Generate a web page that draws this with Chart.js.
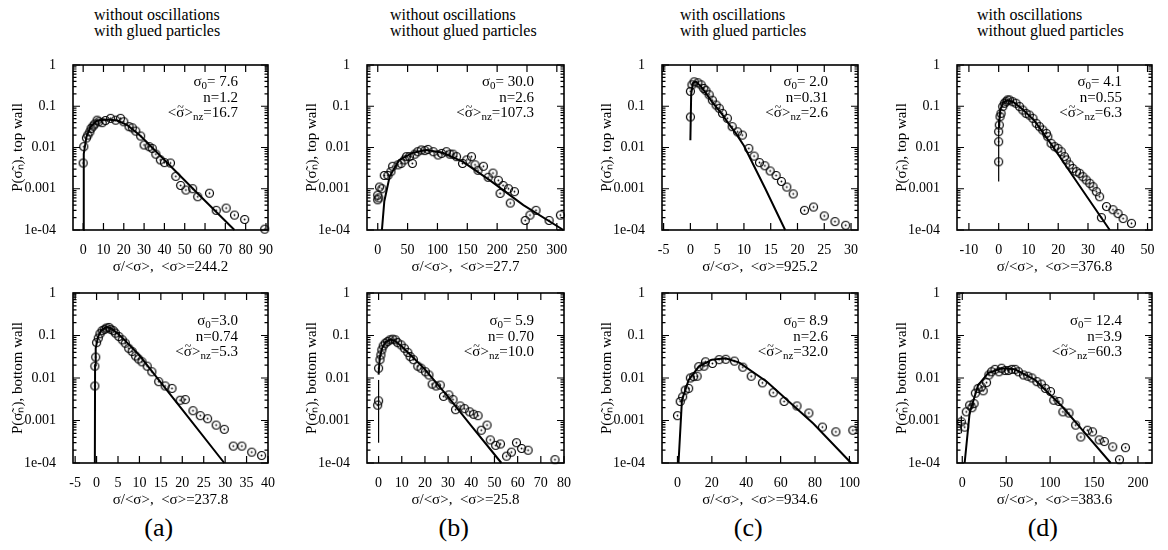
<!DOCTYPE html>
<html>
<head>
<meta charset="utf-8">
<script src="https://cdn.jsdelivr.net/npm/chart.js@4.4.1/dist/chart.umd.min.js"></script>
<style>
  html, body { margin: 0; padding: 0; background: #fff; }
  body { width: 1168px; height: 550px; position: relative; overflow: hidden;
         font-family: 'Liberation Serif', 'Times New Roman', serif; color: #000; }
  .cv { position: absolute; }
  .hd { position: absolute; font-size: 16px; line-height: 16px; white-space: nowrap; }
  .an { position: absolute; font-size: 15px; line-height: 15.5px; text-align: right; white-space: nowrap; }
  .an sub { font-size: 11px; vertical-align: -3px; line-height: 0; }
  .tl { position: relative; display: inline-block; }
  .tl::after { content: '~'; position: absolute; left: 0; right: 0; top: -5px; text-align: center; font-size: 12px; }
  .pl { position: absolute; font-size: 26px; line-height: 30px; transform: translateX(-50%); }
</style>
</head>
<body>
<script>
// log axis, shared by all panels
var yTicks = [0.0001, 0.001, 0.01, 0.1, 1];
var yTickLabels = ['1e-04', '0.001', '0.01', '0.1', '1'];

var headers = [
  ['without oscillations', 'with glued particles'],
  ['without oscillations', 'without glued particles'],
  ['with oscillations', 'with glued particles'],
  ['with oscillations', 'without glued particles']
];
var panelNames = ['(a)', '(b)', '(c)', '(d)'];

// fit parameters printed in each panel
var meanTop = ['244.2', '27.7', '925.2', '376.8'];
var meanBottom = ['237.8', '25.8', '934.6', '383.6'];
var sigma0Top = [' 7.6', ' 30.0', ' 2.0', ' 4.1'];
var sigma0Bottom = ['3.0', ' 5.9', ' 8.9', ' 12.4'];
var nTop = ['1.2', '2.6', '0.31', '0.55'];
var nBottom = ['0.74', ' 0.70', '2.6', '3.9'];
var nzTop = ['16.7', '107.3', '2.6', '6.3'];
var nzBottom = ['5.3', '10.0', '32.0', '60.3'];

// (a) top wall
var aTopRange = [-5, 91];
var aTopTicks = [0, 10, 20, 30, 40, 50, 60, 70, 80, 90];
var aTopX = [0, 0.3, 1.6, 2.3, 3.3, 3.9, 4.9, 5.7, 6.9, 7.7, 9.4, 11, 13.5, 16, 18.4, 20, 22.6, 24.2, 25.9, 28.3, 30, 32.5, 34, 35.8, 38, 40, 43, 45.6, 48, 50.6, 53.9, 56.4, 62.2, 65.5, 70.4, 74.5, 79.5, 89.4];
var aTopP = [0.0042, 0.0105, 0.017, 0.02, 0.024, 0.029, 0.033, 0.037, 0.046, 0.042, 0.04, 0.045, 0.051, 0.046, 0.051, 0.042, 0.032, 0.03, 0.025, 0.019, 0.0115, 0.0105, 0.0095, 0.0069, 0.005, 0.0043, 0.0042, 0.002, 0.0012, 0.00093, 0.001, 0.00064, 0.00078, 0.0003, 0.00034, 0.00023, 0.00018, 0.000105];
var aTopFitX = [0.05, 0.3, 1.6, 3.6, 6.9, 11.8, 16.8, 21.7, 28.3, 41.5, 58, 74.5];
var aTopFitP = [0.0001, 0.007, 0.018, 0.032, 0.045, 0.048, 0.045, 0.035, 0.019, 0.0042, 0.00064, 0.0001];

// (b) top wall
var bTopRange = [-18, 312];
var bTopTicks = [0, 50, 100, 150, 200, 250, 300];
var bTopX = [0, 1.7, 0, 3, 7, 11, 17, 22, 25, 34, 39, 45, 48, 53, 58, 62, 67, 73, 79, 84, 93, 101, 107, 115, 121, 126, 132, 142, 149, 157, 163, 168, 177, 185, 193, 202, 210, 219, 229, 205, 222, 247, 255, 265, 287, 306];
var bTopP = [0.00054, 0.0006, 0.0007, 0.0011, 0.001, 0.0021, 0.0021, 0.0026, 0.0035, 0.0038, 0.0041, 0.005, 0.006, 0.006, 0.0041, 0.0069, 0.0079, 0.0087, 0.0084, 0.009, 0.0079, 0.0066, 0.0072, 0.0079, 0.0069, 0.0069, 0.006, 0.0041, 0.005, 0.006, 0.0038, 0.0028, 0.0035, 0.0019, 0.0024, 0.0016, 0.0012, 0.001, 0.00085, 0.00077, 0.00045, 0.00017, 0.00023, 0.0003, 0.00017, 0.00023];
var bTopFitX = [7, 11, 20, 36, 59, 81, 109, 143, 188, 244, 311];
var bTopFitP = [0.0001, 0.0005, 0.002, 0.005, 0.0075, 0.0087, 0.0075, 0.0045, 0.0016, 0.0004, 0.0001];

// (c) top wall
var cTopRange = [-5.3, 31.3];
var cTopTicks = [-5, 0, 5, 10, 15, 20, 25, 30];
var cTopX = [0, 0, 0.3, 0.7, 1.4, 2, 2.5, 2.9, 3.5, 4.1, 4.8, 5.4, 6, 6.9, 7.8, 8.8, 9.7, 10.9, 11.9, 12.9, 13.9, 14.9, 16, 17, 18, 19.2, 21.3, 23, 25, 27, 29];
var cTopP = [0.055, 0.23, 0.33, 0.39, 0.37, 0.33, 0.27, 0.24, 0.19, 0.14, 0.107, 0.089, 0.067, 0.051, 0.032, 0.024, 0.02, 0.0095, 0.0062, 0.0043, 0.0036, 0.0027, 0.0021, 0.0015, 0.0011, 0.00075, 0.0003, 0.00036, 0.00022, 0.00016, 0.00013];
var cTopFitX = [0, 0.15, 0.5, 1, 2, 3, 4, 5, 6, 7, 8.5, 10, 14, 17.7];
var cTopFitP = [0.015, 0.2, 0.37, 0.4, 0.3, 0.2, 0.13, 0.09, 0.062, 0.04, 0.022, 0.011, 0.001, 0.0001];

// (d) top wall
var dTopRange = [-14, 51.5];
var dTopTicks = [-10, 0, 10, 20, 30, 40, 50];
var dTopX = [0, 0, 0, 0.2, 0.45, 0.8, 1.35, 1.9, 2.5, 3, 3.6, 4.7, 5.8, 7, 8.1, 9.2, 10.3, 11.5, 12.6, 13.7, 14.8, 16, 16.5, 17.6, 18.8, 19.9, 21, 22.1, 22.7, 23.8, 24.9, 26.1, 27.2, 28.3, 29.4, 30.6, 31.7, 32.8, 33.9, 34.5, 36.2, 38.4, 40.1, 41.8, 44.6];
var dTopP = [0.0045, 0.0138, 0.0242, 0.035, 0.056, 0.067, 0.098, 0.118, 0.129, 0.142, 0.142, 0.129, 0.118, 0.098, 0.081, 0.067, 0.061, 0.051, 0.0385, 0.032, 0.0266, 0.022, 0.0183, 0.0126, 0.0105, 0.0095, 0.0079, 0.006, 0.005, 0.0038, 0.0031, 0.0026, 0.00236, 0.00196, 0.00163, 0.00135, 0.00112, 0.00085, 0.00064, 0.0002, 0.00037, 0.00031, 0.00025, 0.00019, 0.000145];
var dTopFitX = [0.1, 0.5, 1.5, 3, 5, 8, 12, 18, 28, 37.3];
var dTopFitP = [0.03, 0.08, 0.125, 0.14, 0.125, 0.085, 0.045, 0.011, 0.00096, 0.0001];
var dTopErr = [[0, 0.0015, 0.05]];

// (a) bottom wall
var aBotRange = [-5.5, 40];
var aBotTicks = [-5, 0, 5, 10, 15, 20, 25, 30, 35, 40];
var aBotX = [-0.4, -0.4, -0.2, 0, 0.4, 0.8, 1.3, 1.9, 2.3, 2.9, 3.3, 3.9, 4.4, 5.2, 6, 6.7, 7.5, 8.3, 9.1, 9.8, 10.6, 11.8, 12.9, 14.5, 16, 17.6, 19.5, 20.7, 22.5, 24.2, 25.9, 27.9, 29.8, 31.9, 33.9, 36.2, 38.5];
var aBotP = [0.0065, 0.019, 0.031, 0.068, 0.087, 0.11, 0.13, 0.14, 0.15, 0.155, 0.14, 0.13, 0.114, 0.095, 0.079, 0.066, 0.05, 0.042, 0.033, 0.028, 0.024, 0.019, 0.014, 0.0082, 0.0065, 0.0057, 0.003, 0.0031, 0.0017, 0.0013, 0.0011, 0.00078, 0.00062, 0.00025, 0.00025, 0.00018, 0.00015];
var aBotFitX = [-0.4, -0.35, -0.2, 0.3, 1, 2.3, 3.5, 5, 7, 10, 14.5, 20, 29.8];
var aBotFitP = [0.0001, 0.02, 0.05, 0.09, 0.13, 0.16, 0.145, 0.11, 0.07, 0.034, 0.009, 0.0018, 0.0001];

// (b) bottom wall
var bBotRange = [-5, 80];
var bBotTicks = [0, 10, 20, 30, 40, 50, 60, 70, 80];
var bBotX = [-0.4, 0, 0, 0.6, 1, 1.4, 2, 2.9, 3.9, 4.9, 6.1, 7.2, 8.2, 9.7, 11.1, 12.6, 13.6, 15, 16.9, 18.3, 20.2, 21.7, 23.1, 24.8, 26.6, 28, 30.3, 32.1, 33.2, 35.2, 37.1, 39.3, 41, 42.9, 44.3, 46.8, 48.2, 50.5, 52.6, 55.2, 57.3, 59.5, 61.7, 64.5, 76.1];
var bBotP = [0.0023, 0.0029, 0.017, 0.027, 0.035, 0.046, 0.057, 0.066, 0.072, 0.079, 0.082, 0.079, 0.068, 0.06, 0.05, 0.04, 0.032, 0.027, 0.019, 0.017, 0.014, 0.0118, 0.0072, 0.0065, 0.0068, 0.0037, 0.004, 0.0031, 0.0018, 0.0022, 0.0019, 0.0016, 0.0014, 0.0013, 0.00059, 0.00078, 0.00035, 0.00026, 0.00028, 0.000145, 0.00018, 0.0003, 0.00022, 0.0002, 0.00012];
var bBotFitX = [0, 0.5, 1.5, 3, 5, 7, 10, 15, 20, 30, 40, 53];
var bBotFitP = [0.012, 0.03, 0.05, 0.07, 0.08, 0.075, 0.055, 0.03, 0.016, 0.0036, 0.00075, 0.0001];
var bBotErr = [[0, 0.0003, 0.009]];

// (c) bottom wall
var cBotRange = [-9, 105];
var cBotTicks = [0, 20, 40, 60, 80, 100];
var cBotX = [0, 1.6, 3, 4.5, 6.5, 7.5, 9.4, 11.4, 12.4, 15.4, 16.3, 20.3, 24.2, 28.1, 33.1, 38, 42.9, 49.4, 55.7, 62, 69.5, 76.4, 84.3, 92.1, 102];
var cBotP = [0.0013, 0.0028, 0.0036, 0.0052, 0.0057, 0.01, 0.0108, 0.011, 0.0185, 0.019, 0.024, 0.022, 0.027, 0.0276, 0.025, 0.018, 0.011, 0.0077, 0.0045, 0.0028, 0.0022, 0.0015, 0.0007, 0.00054, 0.00059];
var cBotFitX = [0.6, 2.6, 6.5, 12.4, 20, 28, 36, 52, 79, 101];
var cBotFitP = [0.0001, 0.003, 0.009, 0.0185, 0.027, 0.029, 0.023, 0.0082, 0.00085, 0.0001];

// (d) bottom wall
var dBotRange = [-6, 216];
var dBotTicks = [0, 50, 100, 150, 200];
var dBotX = [-1.1, 2.7, 4.6, 8.4, 11, 13.4, 14.9, 18, 21.8, 23.8, 27.6, 30.3, 33.3, 37.2, 41.8, 44.8, 48.7, 52.5, 56.3, 60.2, 64, 69.7, 74.7, 79.3, 85, 90, 94.6, 100.4, 104.2, 110, 114.6, 121.5, 129.1, 134.9, 142.5, 148.3, 155.9, 161.7, 171.3, 179, 185.8];
var dBotP = [0.00093, 0.0007, 0.0016, 0.0023, 0.002, 0.0025, 0.0044, 0.0057, 0.0062, 0.005, 0.0078, 0.0118, 0.014, 0.016, 0.014, 0.017, 0.015, 0.015, 0.016, 0.016, 0.014, 0.0118, 0.011, 0.01, 0.0082, 0.0072, 0.0057, 0.0048, 0.003, 0.0028, 0.0016, 0.0015, 0.00078, 0.00041, 0.00059, 0.00054, 0.00035, 0.00032, 0.00024, 0.00012, 0.00023];
var dBotFitX = [2.7, 8.4, 18, 29.5, 44.8, 60, 83, 114, 140, 169];
var dBotFitP = [0.0001, 0.0015, 0.0068, 0.013, 0.017, 0.016, 0.009, 0.0021, 0.0005, 0.0001];
var dBotErr = [[-1.1, 0.0005, 0.0013]];

// page geometry of the plot boxes
var colLeft = [73, 367, 662, 957];
var colWidth = [195, 197, 196, 195];
var rowTop = [65, 293];
var rowHeight = [165, 170];
var AXIS_W = 72, AXIS_H = 50, PAD = 12;

var tickFont = { family: "'Liberation Serif', serif", size: 14 };
var titleFont = { family: "'Liberation Serif', serif", size: 15 };

// open circle with a dot, as gnuplot draws it
var ring = document.createElement('canvas');
ring.width = ring.height = 11;
(function () {
  var c = ring.getContext('2d');
  c.strokeStyle = '#000';
  c.lineWidth = 1.2;
  c.beginPath(); c.arc(5.5, 5.5, 4, 0, Math.PI * 2); c.stroke();
  c.fillStyle = '#000';
  c.beginPath(); c.arc(5.5, 5.5, 0.9, 0, Math.PI * 2); c.fill();
})();

// box with inward ticks on all four sides, minor ticks on the log axis
var framePlugin = {
  id: 'frame',
  afterDatasetsDraw: function (chart) {
    var ctx = chart.ctx, a = chart.chartArea, x = chart.scales.x, y = chart.scales.y;
    ctx.save();
    ctx.strokeStyle = '#000';
    ctx.lineWidth = 1.2;
    ctx.beginPath();
    x.ticks.forEach(function (t) {
      var px = x.getPixelForValue(t.value);
      ctx.moveTo(px, a.bottom); ctx.lineTo(px, a.bottom - 7);
      ctx.moveTo(px, a.top); ctx.lineTo(px, a.top + 7);
    });
    for (var d = -4; d <= 0; d++) {
      for (var k = 1; k <= 9; k++) {
        var v = k * Math.pow(10, d);
        if (v > 1) break;
        var py = y.getPixelForValue(v), len = k === 1 ? 7 : 3.5;
        ctx.moveTo(a.left, py); ctx.lineTo(a.left + len, py);
        ctx.moveTo(a.right, py); ctx.lineTo(a.right - len, py);
      }
    }
    ctx.stroke();
    ctx.lineWidth = 1.6;
    ctx.strokeRect(a.left, a.top, a.right - a.left, a.bottom - a.top);
    ctx.restore();
  }
};

function pts(xs, ys) {
  return xs.map(function (v, i) { return { x: v, y: ys[i] }; });
}

function panel(row, col, range, ticks, xs, ps, fxs, fps, errs, mean, wall) {
  var left = colLeft[col], top = rowTop[row], w = colWidth[col], h = rowHeight[row];
  var cw = AXIS_W + w + PAD, ch = PAD + h + AXIS_H;
  var canvas = document.createElement('canvas');
  canvas.className = 'cv';
  canvas.width = cw; canvas.height = ch;
  canvas.style.left = (left - AXIS_W) + 'px';
  canvas.style.top = (top - PAD) + 'px';
  canvas.style.width = cw + 'px';
  canvas.style.height = ch + 'px';
  document.body.appendChild(canvas);

  var datasets = [
    { data: pts(xs, ps), pointStyle: ring, pointRadius: 4, showLine: false, clip: false },
    { data: pts(fxs, fps), showLine: true, borderColor: '#000', borderWidth: 2, pointRadius: 0, clip: false }
  ];
  (errs || []).forEach(function (e) {
    datasets.push({ data: [{ x: e[0], y: e[1] }, { x: e[0], y: e[2] }], showLine: true,
      borderColor: '#000', borderWidth: 1.2, pointRadius: 0, clip: false });
  });

  return new Chart(canvas, {
    type: 'scatter',
    data: { datasets: datasets },
    options: {
      responsive: false,
      animation: false,
      devicePixelRatio: 1,
      layout: { padding: { top: PAD, right: PAD, left: 0, bottom: 0 } },
      plugins: { legend: { display: false }, tooltip: { enabled: false } },
      scales: {
        x: {
          type: 'linear', min: range[0], max: range[1],
          grid: { display: false }, border: { display: false },
          afterBuildTicks: function (s) { s.ticks = ticks.map(function (v) { return { value: v }; }); },
          afterFit: function (s) { s.height = AXIS_H; s.paddingLeft = 0; s.paddingRight = 0; },
          ticks: { font: tickFont, color: '#000', padding: 4, maxRotation: 0, autoSkip: false,
                   callback: function (v) { return String(v); } },
          title: { display: true, text: 'σ/<σ>,  <σ>=' + mean, font: titleFont, color: '#000',
                   padding: { top: 0, bottom: 4 } }
        },
        y: {
          type: 'logarithmic', min: 0.0001, max: 1,
          grid: { display: false }, border: { display: false },
          afterBuildTicks: function (s) { s.ticks = yTicks.map(function (v) { return { value: v }; }); },
          afterFit: function (s) { s.width = AXIS_W; s.paddingTop = 0; s.paddingBottom = 0; },
          ticks: { font: tickFont, color: '#000', padding: 9, autoSkip: false,
                   callback: function (v, i) { return yTickLabels[i]; } },
          title: { display: true, text: 'P(σ̃ₙ), ' + wall + ' wall', font: titleFont, color: '#000',
                   padding: { top: 8, bottom: 0 } }
        }
      }
    },
    plugins: [framePlugin]
  });
}

function addDiv(cls, html, style) {
  var d = document.createElement('div');
  d.className = cls;
  d.innerHTML = html;
  for (var k in style) d.style[k] = style[k];
  document.body.appendChild(d);
}

panel(0, 0, aTopRange, aTopTicks, aTopX, aTopP, aTopFitX, aTopFitP, null, meanTop[0], 'top');
panel(0, 1, bTopRange, bTopTicks, bTopX, bTopP, bTopFitX, bTopFitP, null, meanTop[1], 'top');
panel(0, 2, cTopRange, cTopTicks, cTopX, cTopP, cTopFitX, cTopFitP, null, meanTop[2], 'top');
panel(0, 3, dTopRange, dTopTicks, dTopX, dTopP, dTopFitX, dTopFitP, dTopErr, meanTop[3], 'top');
panel(1, 0, aBotRange, aBotTicks, aBotX, aBotP, aBotFitX, aBotFitP, null, meanBottom[0], 'bottom');
panel(1, 1, bBotRange, bBotTicks, bBotX, bBotP, bBotFitX, bBotFitP, bBotErr, meanBottom[1], 'bottom');
panel(1, 2, cBotRange, cBotTicks, cBotX, cBotP, cBotFitX, cBotFitP, null, meanBottom[2], 'bottom');
panel(1, 3, dBotRange, dBotTicks, dBotX, dBotP, dBotFitX, dBotFitP, dBotErr, meanBottom[3], 'bottom');

var headerLeft = [94, 390, 680, 977];
var annTop = [rowTop[0] + 9, rowTop[1] + 20];
var nzLabel = '&lt;<span class="tl">σ</span>&gt;<sub>nz</sub>=';
for (var c = 0; c < 4; c++) {
  addDiv('hd', headers[c][0] + '<br>' + headers[c][1], { left: headerLeft[c] + 'px', top: '7px' });
  addDiv('pl', panelNames[c], { left: (colLeft[c] + 0.44 * colWidth[c]) + 'px', top: '513px' });
  var right = 1168 - (colLeft[c] + colWidth[c] - 30);
  addDiv('an', 'σ<sub>0</sub>=' + sigma0Top[c] + '<br>n=' + nTop[c] + '<br>' + nzLabel + nzTop[c],
    { right: right + 'px', top: annTop[0] + 'px' });
  addDiv('an', 'σ<sub>0</sub>=' + sigma0Bottom[c] + '<br>n=' + nBottom[c] + '<br>' + nzLabel + nzBottom[c],
    { right: right + 'px', top: annTop[1] + 'px' });
}
</script>
</body>
</html>
